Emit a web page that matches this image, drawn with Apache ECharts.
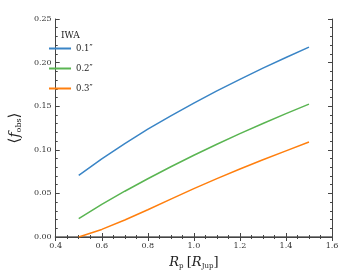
<!DOCTYPE html>
<html><head><meta charset="utf-8">
<script src="https://cdn.jsdelivr.net/npm/echarts@6/dist/echarts.min.js"></script>
<style>html,body{margin:0;padding:0;background:#fff}#c{width:361px;height:275px}</style>
</head><body><div id="c"></div>
<script>
var radii = [0.5,0.6,0.7,0.8,0.9,1.0,1.1,1.2,1.3,1.4,1.5];
var iwa01 = [0.0706,0.0896,0.1072,0.1236,0.1390,0.1536,0.1675,0.1808,0.1936,0.2059,0.2177];
var iwa02 = [0.021,0.0375,0.0525,0.0668,0.0806,0.0938,0.1064,0.1185,0.1302,0.1415,0.1524];
var iwa03 = [0.0,0.0087,0.0195,0.0312,0.0434,0.0555,0.0670,0.0780,0.0886,0.0988,0.109];
var seriesNames = ['0.1″','0.2″','0.3″'];
var colors = ['#3a85c6','#5ab552','#ff7f0e'];
var font = 'DejaVu Serif';
function pairs(v){return radii.map(function(x,i){return [x,v[i]];});}
var chart = echarts.init(document.getElementById('c'));
var tick = {inside:true,length:4,lineStyle:{color:'#444'}};
chart.setOption({
  animation:false,
  color:colors,
  title:{text:'IWA',left:56,top:26,textStyle:{fontFamily:font,fontSize:9,fontWeight:'normal',color:'#222'}},
  legend:{orient:'vertical',left:44,top:39,itemWidth:22,itemHeight:2,itemGap:11,icon:'rect',
    textStyle:{fontFamily:font,fontSize:8.5,color:'#222'},data:seriesNames},
  grid:{left:40,top:19,right:29,bottom:34},
  xAxis:[
    {type:'value',min:0.4,max:1.6,interval:0.2,position:'bottom',
      axisLine:{lineStyle:{color:'#888',width:2}},
      axisTick:tick,
      minorTick:{show:true,splitNumber:4,length:2,lineStyle:{color:'#444'}},
      splitLine:{show:false},
      axisLabel:{fontFamily:font,fontSize:8,color:'#333',margin:5,formatter:function(v){return v.toFixed(1);}},
      name:'{i|R}{s|p} {n|[}{i|R}{s|Jup}{n|]}',nameLocation:'middle',nameGap:19,
      nameTextStyle:{rich:{i:{fontFamily:font,fontStyle:'italic',fontSize:13,color:'#222'},
        n:{fontFamily:font,fontSize:13,color:'#222'},
        s:{fontFamily:font,fontSize:7,color:'#222',verticalAlign:'bottom',padding:[7,0,0,0]}}}
    },
    {type:'value',min:0.4,max:1.6,interval:0.2,position:'top',
      axisLine:{lineStyle:{color:'#444',width:1}},
      axisTick:tick,
      minorTick:{show:true,splitNumber:4,length:2,lineStyle:{color:'#444'}},
      axisLabel:{show:false},splitLine:{show:false}}
  ],
  yAxis:[
    {type:'value',min:0,max:0.25,interval:0.05,position:'left',
      axisLine:{show:true,lineStyle:{color:'#444',width:1}},
      axisTick:tick,
      minorTick:{show:true,splitNumber:5,length:2,lineStyle:{color:'#444'}},
      splitLine:{show:false},
      axisLabel:{fontFamily:font,fontSize:8,color:'#333',margin:4,formatter:function(v){return v.toFixed(2);}},
      name:'{a|⟨}{i|f}{s|obs}{a|⟩}',nameLocation:'middle',nameRotate:90,nameGap:22,
      nameTextStyle:{rich:{a:{fontFamily:font,fontSize:15,color:'#222'},
        i:{fontFamily:font,fontStyle:'italic',fontSize:14,color:'#222'},
        s:{fontFamily:font,fontSize:8,color:'#222',verticalAlign:'bottom',padding:[7,0,0,0]}}}
    },
    {type:'value',min:0,max:0.25,interval:0.05,position:'right',
      axisLine:{show:true,lineStyle:{color:'#444',width:1}},
      axisTick:tick,
      minorTick:{show:true,splitNumber:5,length:2,lineStyle:{color:'#444'}},
      splitLine:{show:false},axisLabel:{show:false}}
  ],
  series:[
    {name:seriesNames[0],type:'line',data:pairs(iwa01),showSymbol:false,lineStyle:{width:1.5}},
    {name:seriesNames[1],type:'line',data:pairs(iwa02),showSymbol:false,lineStyle:{width:1.5}},
    {name:seriesNames[2],type:'line',data:pairs(iwa03),showSymbol:false,lineStyle:{width:1.5}}
  ]
});
</script></body></html>
